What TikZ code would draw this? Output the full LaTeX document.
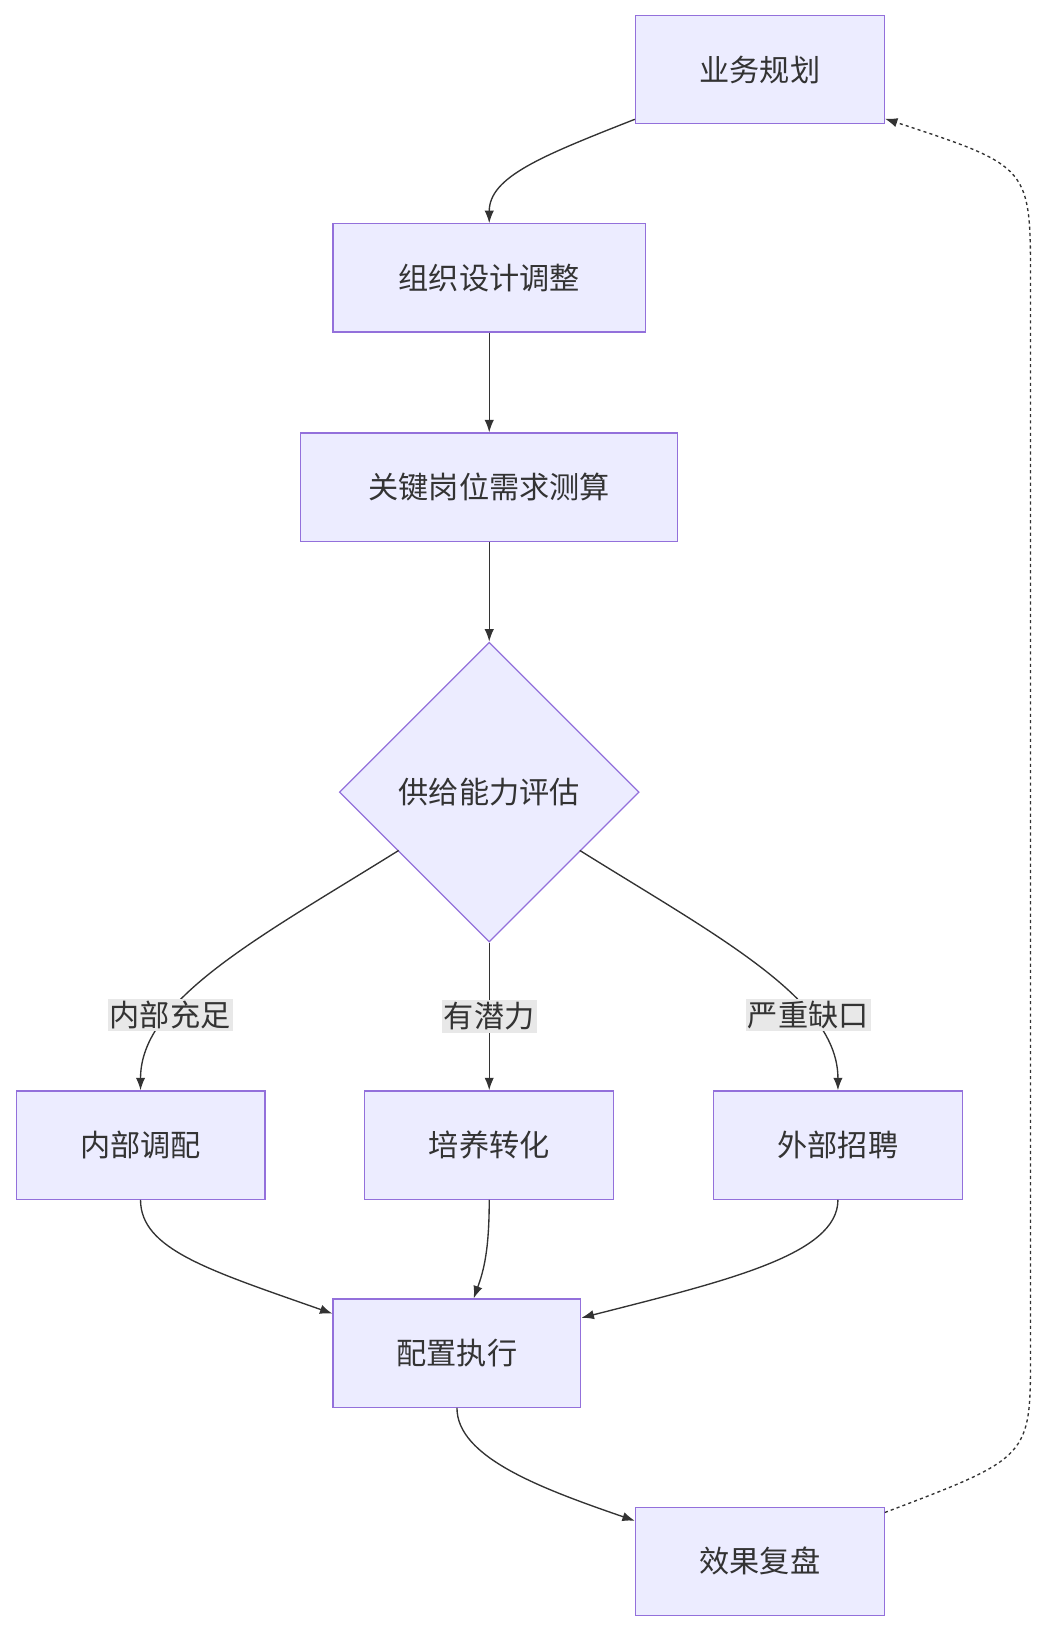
\documentclass[tikz,border=0pt]{standalone}
\usepackage{fontspec}
\setmainfont{Noto Sans CJK SC}
\usetikzlibrary{shapes.geometric,arrows.meta}
\definecolor{boxfill}{HTML}{ECECFF}
\definecolor{boxline}{HTML}{9370DB}
\definecolor{ink}{HTML}{333333}
\definecolor{lblbg}{HTML}{E8E8E8}
\begin{document}
\begin{tikzpicture}[x=1pt,y=-1pt,
  box/.style={draw=boxline,fill=boxfill,line width=1.2pt,minimum height=104pt,inner sep=0pt,text=ink,font=\fontsize{29}{34}\selectfont},
  dia/.style={draw=boxline,fill=boxfill,line width=1.2pt,diamond,minimum width=288pt,minimum height=288pt,inner sep=0pt,text=ink,font=\fontsize{29}{34}\selectfont},
  lbl/.style={fill=lblbg,inner sep=2pt,text=ink,font=\fontsize{29}{34}\selectfont},
  conn/.style={draw=ink,line width=1.3pt,-{Latex[length=12pt,width=9pt]}}]
\useasboundingbox (0,0) rectangle (1005,1564);
\node[box,minimum width=239pt] (a) at (730,67) {业务规划};
\node[box,minimum width=300pt] (b) at (470,267) {组织设计调整};
\node[box,minimum width=362pt] (c) at (470,468) {关键岗位需求测算};
\node[dia] (d) at (470,761) {供给能力评估};
\node[box,minimum width=239pt] (e1) at (135,1100) {内部调配};
\node[box,minimum width=239pt] (e2) at (470,1100) {培养转化};
\node[box,minimum width=239pt] (e3) at (805,1100) {外部招聘};
\node[box,minimum width=238pt] (f) at (439,1300) {配置执行};
\node[box,minimum width=239pt] (g) at (730,1500) {效果复盘};
\coordinate (dl) at (383,817);
\coordinate (dr) at (557,817);
\draw[conn] (a.south west) ++(0,-5) .. controls (520,150) and (470,170) .. (b.north);
\draw[conn] (b) -- (c);
\draw[conn] (c) -- (d);
\draw[conn] (dl) .. controls (250,900) and (135,960) .. node[lbl,pos=0.7] {内部充足} (e1.north);
\draw[conn] (d.south) -- node[lbl,pos=0.5] {有潜力} (e2.north);
\draw[conn] (dr) .. controls (690,900) and (805,960) .. node[lbl,pos=0.7] {严重缺口} (e3.north);
\draw[conn] (e1.south) .. controls (135,1200) and (200,1220) .. (f.west |- 0,1262);
\draw[conn] (e2.south) .. controls (470,1200) and (465,1220) .. (f.north -| 455,0);
\draw[conn] (e3.south) .. controls (805,1205) and (700,1230) .. (f.east |- 0,1266);
\draw[conn] (f.south) .. controls (439,1400) and (520,1430) .. (g.west |- 0,1461);
\draw[conn,dashed,dash pattern=on 3pt off 3pt] (g.east |- 0,1453) .. controls (990,1400) .. (990,1300) -- (990,270) .. controls (990,160) .. (a.east |- 0,114);
\end{tikzpicture}
\end{document}
